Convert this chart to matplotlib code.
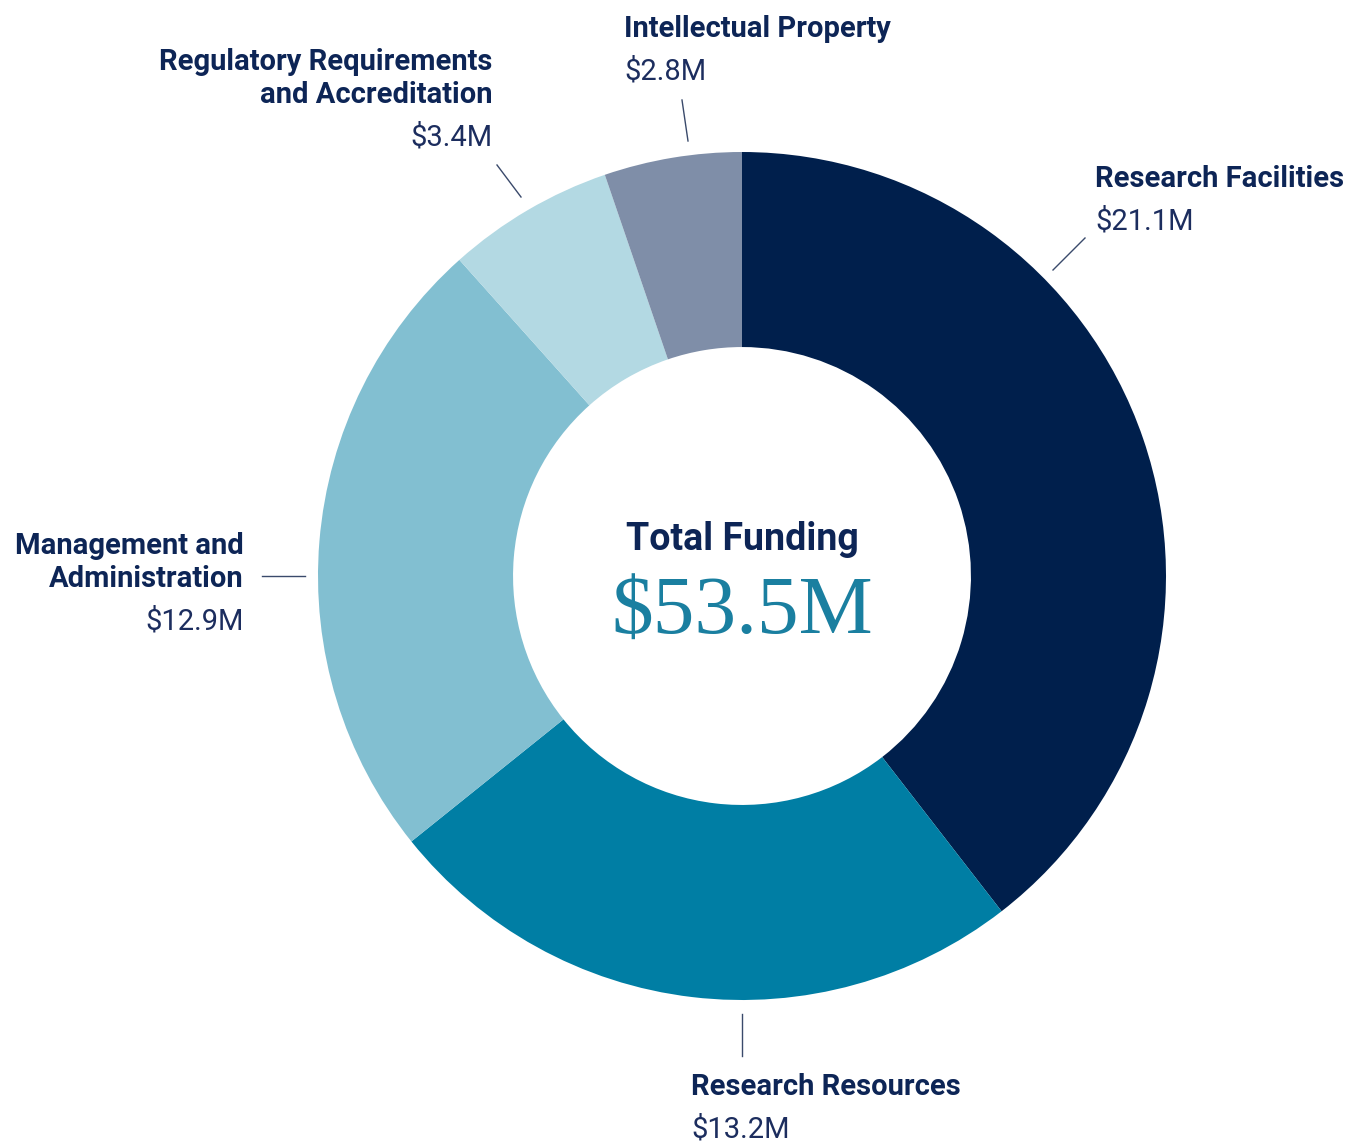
import matplotlib.pyplot as plt

labels = ['Research Facilities', 'Research Resources', 'Management and\nAdministration',
          'Regulatory Requirements\nand Accreditation', 'Intellectual Property']
values = [21.1, 13.2, 12.9, 3.4, 2.8]
value_text = ['$21.1M', '$13.2M', '$12.9M', '$3.4M', '$2.8M']
colors = ['#001f4c', '#007ea4', '#82bfd1', '#b3d9e3', '#7f8ea8']
total_text = '$53.5M'

navy = '#0d2556'
sans = ['Roboto', 'DejaVu Sans']

fig = plt.figure(figsize=(13.48, 11.41), dpi=100)
ax = fig.add_axes([0, 0, 1, 1])

cx, cy, R = 742, 576, 424
ax.pie(values, colors=colors, center=(cx, cy), radius=R, startangle=-90,
       counterclock=True, wedgeprops=dict(width=R * 0.46, linewidth=0),
       frame=True)
ax.set_xlim(0, 1348)
ax.set_ylim(1141, 0)
ax.set_aspect('equal')
ax.axis('off')

# label positions: (x, y of first line, alignment, value y)
pos = [
    (1095, 179, 'left', 221),
    (691, 1087, 'left', 1129),
    (244, 546, 'right', 621),
    (492, 62, 'right', 137),
    (624, 29, 'left', 71),
]
for lab, val, (x, y, ha, vy) in zip(labels, value_text, pos):
    for i, line in enumerate(lab.split('\n')):
        ax.text(x, y + i * 33, line, ha=ha, va='center', fontsize=21,
                fontweight='bold', color=navy, family=sans)
    ax.text(x, vy, val, ha=ha, va='center', fontsize=21, color='#1c2d5e',
            fontweight='normal', family=sans)

# leader lines
leaders = [
    ((1053, 1085), (270, 238)),
    ((742, 742), (1014, 1056)),
    ((262, 305), (576, 576)),
    ((497, 521), (165, 197)),
    ((682, 688), (100, 141)),
]
for xs, ys in leaders:
    ax.plot(xs, ys, color='#3a4a6b', linewidth=1)

ax.text(cx, 539, 'Total Funding', ha='center', va='center', fontsize=27,
        fontweight='bold', color=navy, family=sans)
ax.text(cx, 614, total_text, ha='center', va='center', fontsize=60,
        color='#1a7fa0', family=['Liberation Serif', 'DejaVu Serif'])

fig.savefig('out.png', dpi=100)
